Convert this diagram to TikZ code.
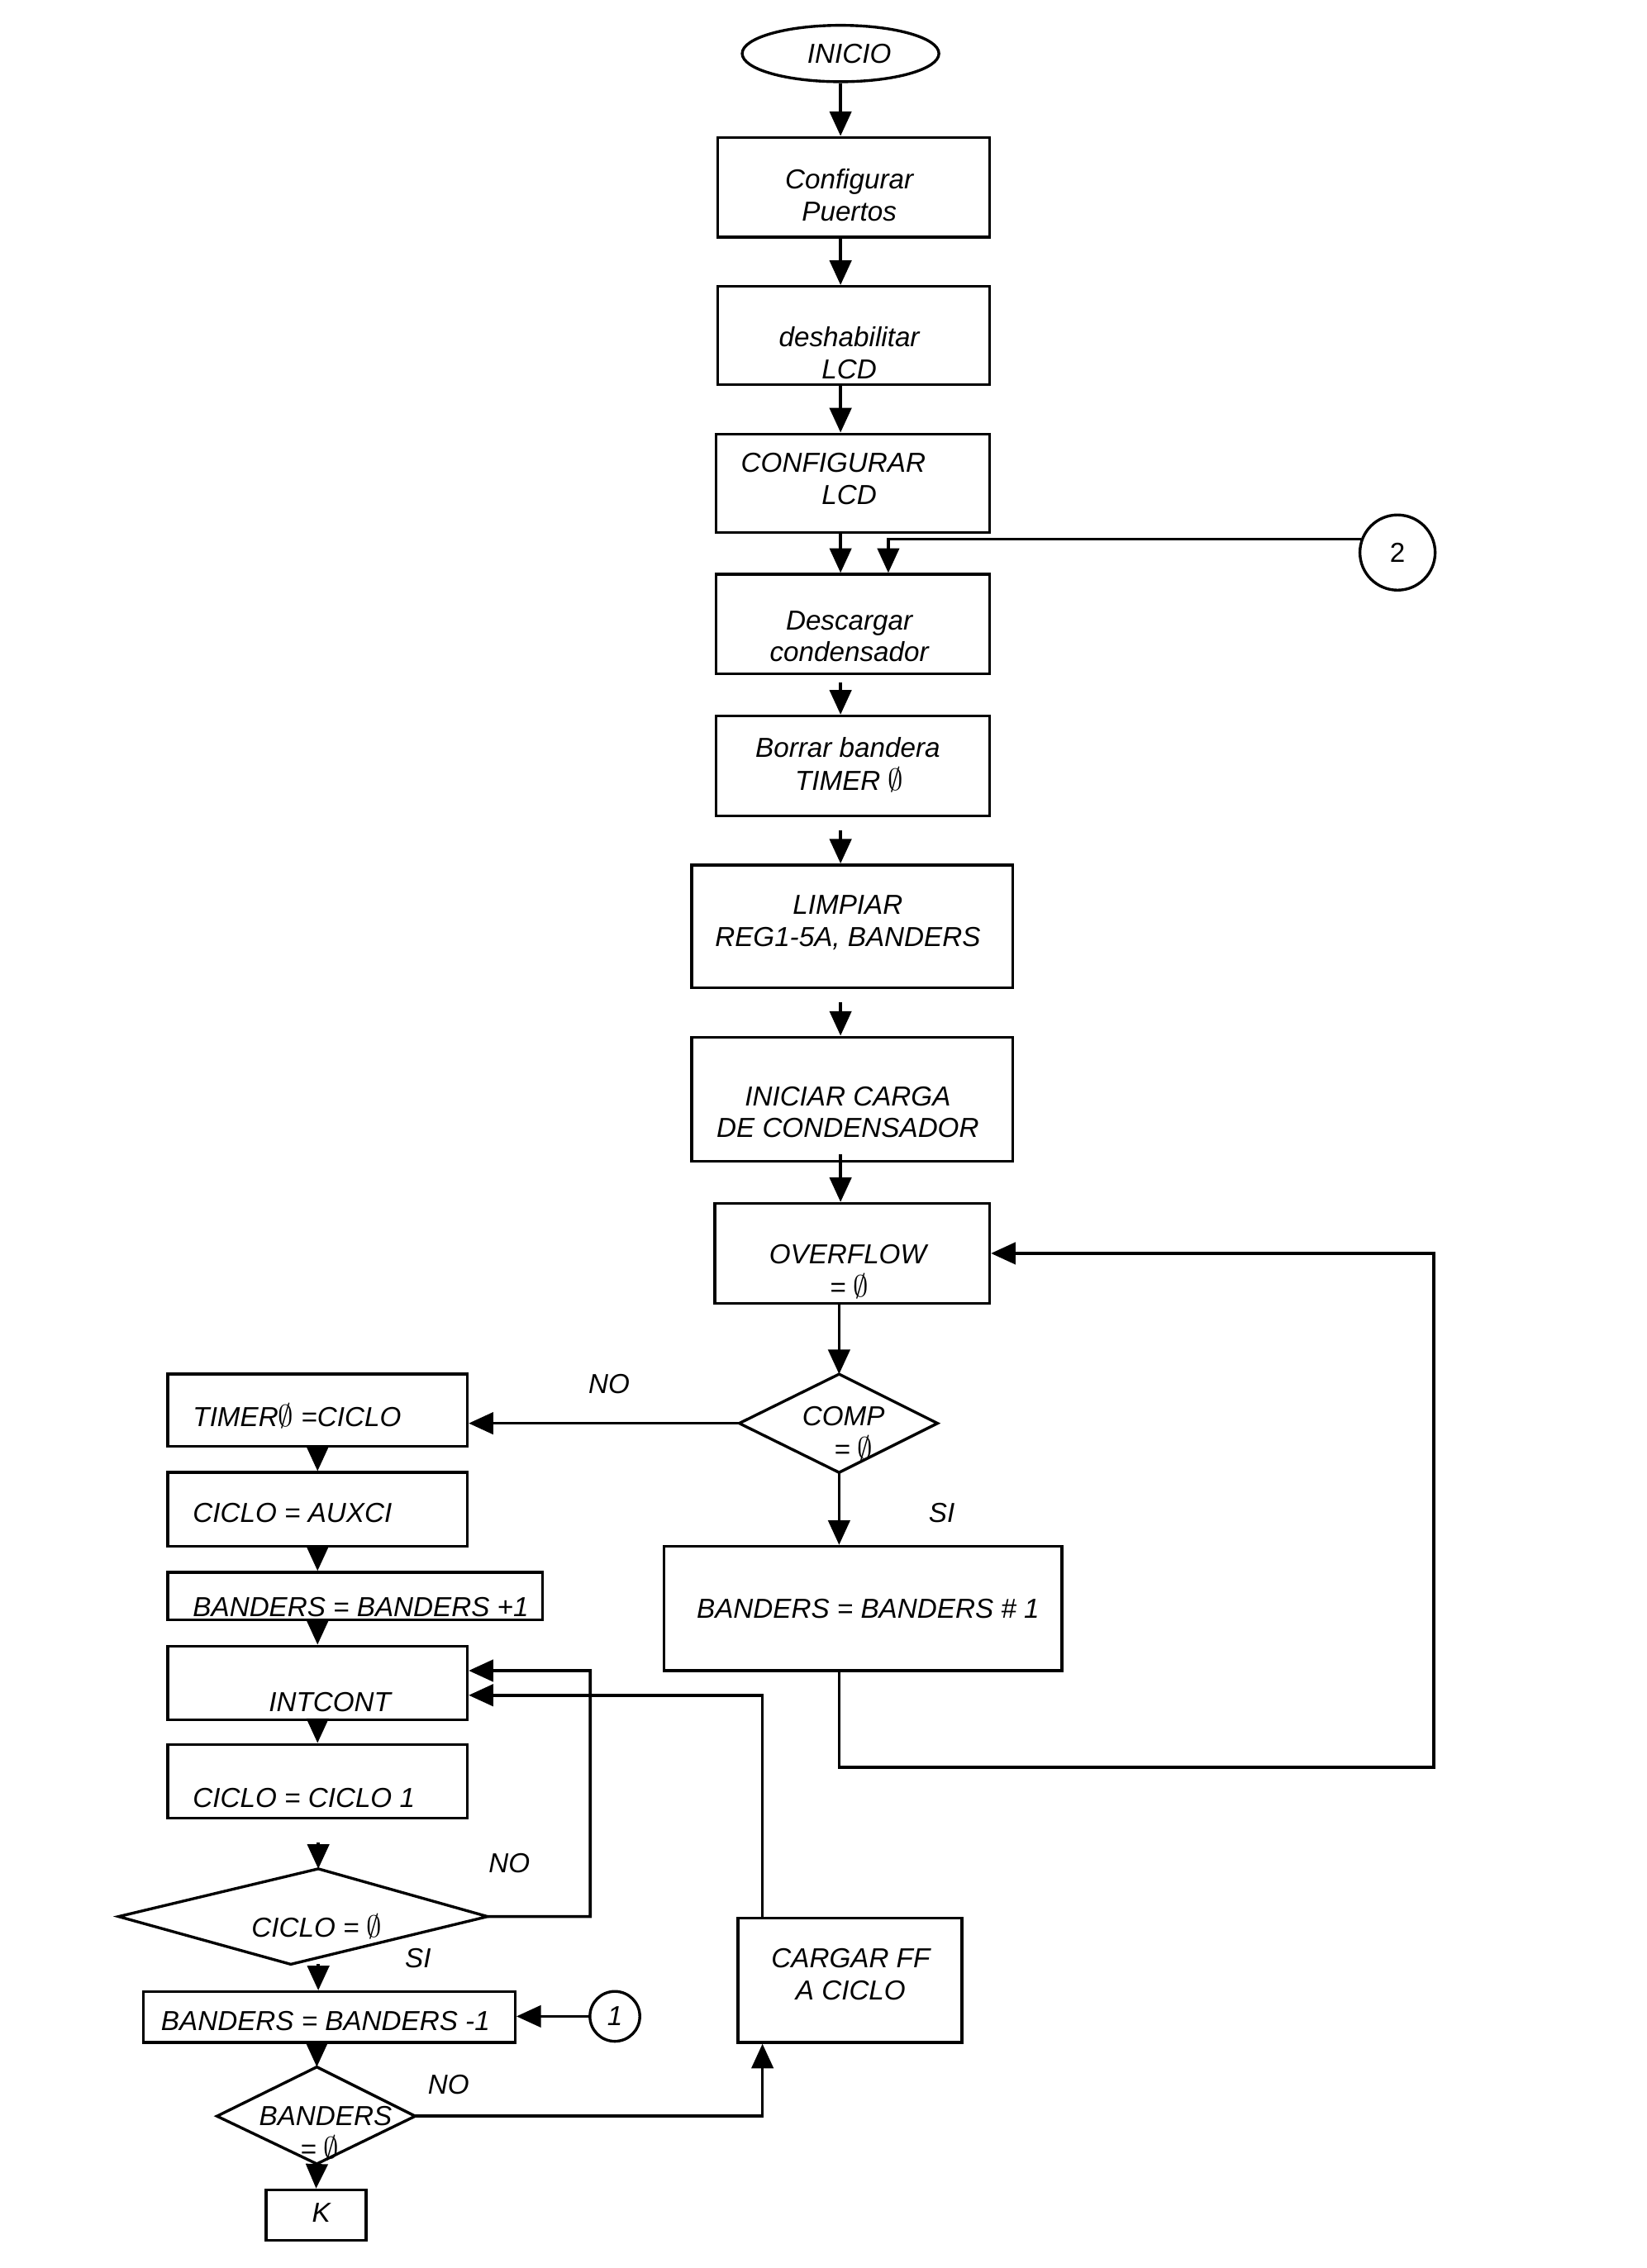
\documentclass[tikz,border=0pt]{standalone}
\usepackage{fontspec}
\setmainfont{Liberation Sans}
\usetikzlibrary{arrows.meta,shapes.geometric,fit,calc}
\newcommand{\vacio}{{\fontsize{13}{13}\selectfont$\emptyset$}}
\newcommand{\mkbox}[5]{\node[box, fit={(#2,#3) (#4,#5)}] (#1) {};}
\begin{document}
\begin{tikzpicture}[x=0.02cm,y=-0.02cm,
  every node/.style={font=\fontsize{10.8}{12.5}\selectfont\itshape, inner sep=0pt},
  box/.style={draw, line width=1.1pt, inner sep=0pt},
  dline/.style={line width=1.1pt, line join=miter},
  arr/.style={line width=1.2pt, -{Triangle[length=0.34cm, width=0.3cm]}}]
\useasboundingbox (0,0) rectangle (1138,1568);
\fill[white] (0,0) rectangle (1138,1568);

% ---- main column
\node[draw, ellipse, line width=1.1pt, minimum width=2.72cm, minimum height=0.78cm] (ini) at (581,37) {};
\mkbox{b1}{496}{95}{684}{164}
\mkbox{b2}{496}{198}{684}{266}
\mkbox{b3}{495}{300}{684}{368}
\mkbox{b4}{495}{397}{684}{466}
\mkbox{b5}{495}{495}{684}{564}
\mkbox{b6}{478}{598}{700}{683}
\mkbox{b7}{478}{717}{700}{803}
\mkbox{ovf}{494}{832}{684}{901}
\mkbox{bn1}{459}{1069}{734}{1155}
\node[draw, circle, line width=1.1pt, minimum size=1.04cm, font=\fontsize{10.8}{12.5}\selectfont\upshape] (c2) at (966,382) {2};

\coordinate (compT) at (580,950);
\coordinate (compR) at (648,984);
\coordinate (compB) at (580,1018);
\coordinate (compL) at (511,984);
\draw[dline] (compT) -- (compR) -- (compB) -- (compL) -- cycle;

% ---- left column
\mkbox{tim}{116}{950}{323}{1000}
\mkbox{aux}{116}{1018}{323}{1069}
\mkbox{bp1}{116}{1087}{375}{1120}
\mkbox{intc}{116}{1138}{323}{1189}
\mkbox{cc1}{116}{1206}{323}{1257}
\mkbox{bm1}{99}{1377}{356}{1412}
\mkbox{cargar}{510}{1326}{665}{1412}
\mkbox{k}{184}{1514}{253}{1549}
\node[draw, circle, line width=1.1pt, minimum size=0.69cm] (c1) at (425,1394) {1};

\coordinate (cicT) at (220,1292);
\coordinate (cicR) at (337,1325);
\coordinate (cicB) at (201,1358);
\coordinate (cicL) at (82,1325);
\draw[dline] (cicT) -- (cicR) -- (cicB) -- (cicL) -- cycle;

\coordinate (bzT) at (219,1429);
\coordinate (bzR) at (287,1463);
\coordinate (bzB) at (219,1496);
\coordinate (bzL) at (150,1463);
\draw[dline] (bzT) -- (bzR) -- (bzB) -- (bzL) -- cycle;

\coordinate (loopR) at (991,1222);
\coordinate (noloop) at (408,1155);

% ---- texts
\node (t0) at (587,37) {INICIO};
\node[align=center] (t1) at (587,135) {Configurar\\Puertos};
\node[align=center] (t2) at (587,244) {deshabilitar\\LCD};
\node (t3a) at (576,320) {CONFIGURAR};
\node (t3b) at (587,342) {LCD};
\node[align=center] (t4) at (587,440) {Descargar\\condensador};
\node (t5a) at (586,517) {Borrar bandera};
\node (t5b) at (587,539) {TIMER \vacio};
\node[align=center] (t6) at (586,638) {LIMPIAR\\REG1-5A, BANDERS};
\node[align=center] (t7) at (586,769) {INICIAR CARGA\\DE CONDENSADOR};
\node (t8a) at (586,867) {OVERFLOW};
\node (t8b) at (587,889) {= \vacio};
\node (t9a) at (583,979) {COMP};
\node (t9b) at (590,1001) {= \vacio};
\node (no1) at (421,957) {NO};
\node (si1) at (651,1046) {SI};
\node (t10) at (600,1112) {BANDERS = BANDERS \# 1};
\node[anchor=west] (t11) at (133,979) {TIMER\vacio\ =CICLO};
\node[anchor=west] (t12) at (133,1046) {CICLO = AUXCI};
\node[anchor=west] (t13) at (133,1111) {BANDERS = BANDERS +1};
\node (t14) at (228,1177) {INTCONT};
\node[anchor=west] (t15) at (133,1243) {CICLO = CICLO 1};
\node (t16) at (219,1332) {CICLO = \vacio};
\node (no2) at (352,1288) {NO};
\node (si2) at (289,1354) {SI};
\node (t17) at (225,1397) {BANDERS = BANDERS -1};
\node (t18a) at (225,1463) {BANDERS};
\node (t18b) at (221,1485) {= \vacio};
\node (no3) at (310,1441) {NO};
\node[align=center] (t19) at (588,1365) {CARGAR FF\\A CICLO};
\node (t20) at (222,1530) {K};

% ---- connectors main column
\draw[arr] (ini.south) -- (ini.south |- b1.north);
\draw[arr] (b1.south -| ini) -- (b2.north -| ini);
\draw[arr] (b2.south -| ini) -- (b3.north -| ini);
\draw[arr] (b3.south -| ini) -- (b4.north -| ini);
\draw[arr] (c2.160) -| ([xshift=2.4cm]b4.north west);
\draw[arr, shorten <=0.1cm] (b4.south -| ini) -- (b5.north -| ini);
\draw[arr, shorten <=0.18cm] (b5.south -| ini) -- (b6.north -| ini);
\draw[arr, shorten <=0.18cm] (b6.south -| ini) -- (b7.north -| ini);
\draw[arr, shorten <=-0.12cm] (b7.south -| ini) -- (ovf.north -| ini);
\draw[arr] (ovf.south -| compT) -- (compT);
\draw[arr] (compB) -- (compB |- bn1.north);
\draw[arr] (compL) -- (compL -| tim.east);
\draw[arr] (bn1.south -| compB) |- (loopR) |- (ovf.east);

% ---- connectors left column
\draw[arr] (tim.south) -- (aux.north);
\draw[arr] (aux.south) -- (aux.south |- bp1.north);
\draw[arr] (bp1.south -| tim) -- (intc.north);
\draw[arr] (intc.south) -- (cc1.north);
\draw[arr, shorten <=0.32cm] (cc1.south -| cicT) -- (cicT);
\draw[arr] (cicR) -| (noloop) -- ([yshift=0.17cm]intc.east);
\draw[arr] (cicT |- cicB) -- (cicT |- bm1.north);
\draw[arr] (c1.west) -- (c1.west -| bm1.east);
\draw[arr] (bm1.south -| bzT) -- (bzT);
\draw[arr] (bzR) -| ([xshift=0.36cm]cargar.south west);
\draw[arr] ([xshift=0.36cm]cargar.north west) |- ([yshift=-0.17cm]intc.east);
\draw[arr] (bzB) -- (k.north);
\end{tikzpicture}
\end{document}
